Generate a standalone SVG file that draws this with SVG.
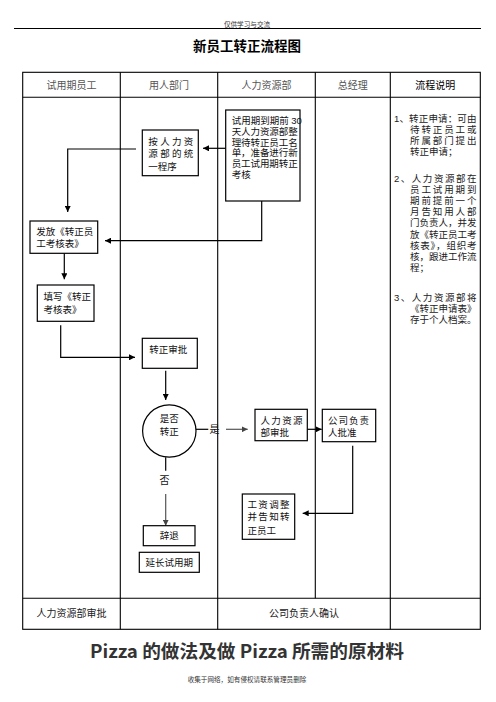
<svg xmlns="http://www.w3.org/2000/svg" width="496" height="702" viewBox="0 0 496 702">
<style>
text{font-family:"Liberation Sans","Noto Sans CJK SC",sans-serif;dominant-baseline:central;fill:#111}
.hd{font-size:10px;fill:#555;text-anchor:middle}
.bx{font-size:9.5px}
.ds{font-size:9.5px;fill:#222}
.node rect,.node ellipse{fill:#fff;stroke:#000;stroke-width:1.2}
.tbl line,.tbl rect{stroke:#000;stroke-width:1.1;fill:none}
.conn path{fill:none;stroke:#000;stroke-width:1.2}
.conn path.g{stroke:#555}
</style>
<defs>
<marker id="ah" markerUnits="userSpaceOnUse" markerWidth="7" markerHeight="6" refX="6" refY="3" orient="auto">
<path d="M0,0 L6,3 L0,6 Z" fill="#000"/>
</marker>
<marker id="ahg" markerUnits="userSpaceOnUse" markerWidth="7" markerHeight="6" refX="6" refY="3" orient="auto">
<path d="M0,0 L6,3 L0,6 Z" fill="#444"/>
</marker>
</defs>
<rect width="496" height="702" fill="#fff"/>
<text x="247" y="24" text-anchor="middle" style="font-size:6.6px;fill:#333">仅供学习与交流</text>
<line x1="14" y1="28.5" x2="481" y2="28.5" stroke="#000" stroke-width="1"/>
<text x="247" y="46" text-anchor="middle" style="font-size:13.5px;font-weight:bold;fill:#000">新员工转正流程图</text>
<g class="tbl" id="table">
<rect x="22.7" y="72.3" width="457.6" height="557"/>
<line x1="22.7" y1="97.3" x2="480.3" y2="97.3"/>
<line x1="22.7" y1="598.3" x2="480.3" y2="598.3"/>
<line x1="120.3" y1="72.3" x2="120.3" y2="629.3"/>
<line x1="217.7" y1="72.3" x2="217.7" y2="629.3"/>
<line x1="315.3" y1="72.3" x2="315.3" y2="598.3"/>
<line x1="390.3" y1="72.3" x2="390.3" y2="629.3"/>
</g>
<g id="headers">
<text class="hd" x="71.5" y="85">试用期员工</text>
<text class="hd" x="169" y="85">用人部门</text>
<text class="hd" x="266.5" y="85">人力资源部</text>
<text class="hd" x="352.8" y="85">总经理</text>
<text class="hd" x="435.3" y="85" style="fill:#000">流程说明</text>
<text class="hd" x="71.5" y="613.5" style="fill:#222">人力资源部审批</text>
<text class="hd" x="304" y="613.5" style="fill:#222">公司负责人确认</text>
</g>
<g class="conn" id="connectors">
<path d="M225.7,148.3 H203" marker-end="url(#ah)"/>
<path d="M136,149 H67.7 V212" marker-end="url(#ah)"/>
<path d="M261.7,201 V240.7 H105" marker-end="url(#ah)"/>
<path d="M64.3,253.3 V279.3" marker-end="url(#ah)"/>
<path d="M60.7,325.3 V357.3 H135" marker-end="url(#ah)"/>
<path d="M165.7,370.7 V400" marker-end="url(#ah)"/>
<path d="M196,429.3 H208.3"/>
<path class="g" d="M226,429.3 H247.7" marker-end="url(#ahg)"/>
<path d="M307.3,429.3 H321.7" marker-end="url(#ah)"/>
<path d="M352.7,445.7 V513.3 H302.7" marker-end="url(#ah)"/>
<path d="M165.7,457.3 V470.7"/>
<path class="g" d="M165.7,494 V525.7" marker-end="url(#ahg)"/>
<text x="214.5" y="429.3" text-anchor="middle" style="font-size:10px">是</text>
<text x="164.5" y="480.5" text-anchor="middle" style="font-size:10px">否</text>
</g>
<g class="node" id="n-hr-prepare">
<rect x="225.7" y="110" width="74.3" height="91"/>
<text class="bx" x="231.7" y="120.5">试用期到期前 30</text>
<text class="bx" x="231.7" y="131.8" textLength="66" lengthAdjust="spacing">天人力资源部整</text>
<text class="bx" x="231.7" y="142.3" textLength="66" lengthAdjust="spacing">理待转正员工名</text>
<text class="bx" x="231.7" y="152.8" textLength="66" lengthAdjust="spacing">单，准备进行新</text>
<text class="bx" x="231.7" y="163.5" textLength="66" lengthAdjust="spacing">员工试用期转正</text>
<text class="bx" x="231.7" y="174.3">考核</text>
</g>
<g class="node" id="n-dept-proc">
<rect x="142.3" y="130" width="56" height="45.7"/>
<text class="bx" x="148.3" y="141" textLength="45" lengthAdjust="spacing">按人力资</text>
<text class="bx" x="148.3" y="153.3" textLength="45" lengthAdjust="spacing">源部的统</text>
<text class="bx" x="148.3" y="166">一程序</text>
</g>
<g class="node" id="n-issue">
<rect x="30" y="221" width="67.7" height="32.3"/>
<text class="bx" x="36.2" y="231.7">发放《转正员</text>
<text class="bx" x="36.2" y="243.3">工考核表》</text>
</g>
<g class="node" id="n-fill">
<rect x="37.3" y="285" width="56.7" height="36.3"/>
<text class="bx" x="43.5" y="296">填写《转正</text>
<text class="bx" x="43.5" y="309.3">考核表》</text>
</g>
<g class="node" id="n-approve">
<rect x="142.3" y="338.3" width="55" height="30"/>
<text class="bx" x="149.3" y="349">转正审批</text>
</g>
<g class="node" id="n-decide">
<ellipse cx="169.3" cy="431" rx="26.7" ry="26.2"/>
<text class="bx" x="169.3" y="418.5" text-anchor="middle">是否</text>
<text class="bx" x="169.3" y="431.7" text-anchor="middle">转正</text>
</g>
<g class="node" id="n-hr-approve">
<rect x="255" y="409.3" width="52.3" height="31.4"/>
<text class="bx" x="260.5" y="420" textLength="42" lengthAdjust="spacing">人力资源</text>
<text class="bx" x="260.5" y="432.7">部审批</text>
</g>
<g class="node" id="n-gm">
<rect x="322.3" y="409.3" width="53.4" height="32.4"/>
<text class="bx" x="328" y="420" textLength="41" lengthAdjust="spacing">公司负责</text>
<text class="bx" x="328" y="432.7">人批准</text>
</g>
<g class="node" id="n-salary">
<rect x="242.3" y="494" width="52.4" height="45.3"/>
<text class="bx" x="247.5" y="504" textLength="42" lengthAdjust="spacing">工资调整</text>
<text class="bx" x="247.5" y="516.7" textLength="42" lengthAdjust="spacing">并告知转</text>
<text class="bx" x="247.5" y="530">正员工</text>
</g>
<g class="node" id="n-dismiss">
<rect x="143.3" y="525.7" width="51.7" height="20"/>
<text class="bx" x="169.2" y="535.5" text-anchor="middle">辞退</text>
</g>
<g class="node" id="n-extend">
<rect x="139.3" y="552.3" width="60" height="20"/>
<text class="bx" x="169.3" y="562.3" text-anchor="middle">延长试用期</text>
</g>
<g id="notes">
<text class="ds" x="394" y="118.3" textLength="82.5" lengthAdjust="spacing">1、转正申请：可由</text>
<text class="ds" x="410" y="129.3" textLength="66.5" lengthAdjust="spacing">待转正员工或</text>
<text class="ds" x="410" y="140.3" textLength="66.5" lengthAdjust="spacing">所属部门提出</text>
<text class="ds" x="410" y="151.3">转正申请；</text>
<text class="ds" x="394" y="178" textLength="82.5" lengthAdjust="spacing">2、人力资源部在</text>
<text class="ds" x="410" y="189.2" textLength="66.5" lengthAdjust="spacing">员工试用期到</text>
<text class="ds" x="410" y="200.4" textLength="66.5" lengthAdjust="spacing">期前提前一个</text>
<text class="ds" x="410" y="211.6" textLength="66.5" lengthAdjust="spacing">月告知用人部</text>
<text class="ds" x="410" y="222.8" textLength="66.5" lengthAdjust="spacing">门负责人，并发</text>
<text class="ds" x="410" y="234" textLength="66.5" lengthAdjust="spacing">放《转正员工考</text>
<text class="ds" x="410" y="245.2" textLength="66.5" lengthAdjust="spacing">核表》，组织考</text>
<text class="ds" x="410" y="256.4" textLength="66.5" lengthAdjust="spacing">核，跟进工作流</text>
<text class="ds" x="410" y="267.6">程；</text>
<text class="ds" x="394" y="297.7" textLength="82.5" lengthAdjust="spacing">3、人力资源部将</text>
<text class="ds" x="410" y="308.6" textLength="66.5" lengthAdjust="spacing">《转正申请表》</text>
<text class="ds" x="410" y="319.5" textLength="66.5" lengthAdjust="spacing">存于个人档案。</text>
</g>
<text x="247" y="650" text-anchor="middle" textLength="314" lengthAdjust="spacingAndGlyphs" style="font-family:'Noto Sans CJK SC',sans-serif;font-size:18px;font-weight:bold;fill:#333">Pizza 的做法及做 Pizza 所需的原材料</text>
<text x="247" y="679" text-anchor="middle" style="font-size:6.6px;fill:#333">收集于网络，如有侵权请联系管理员删除</text>
</svg>
